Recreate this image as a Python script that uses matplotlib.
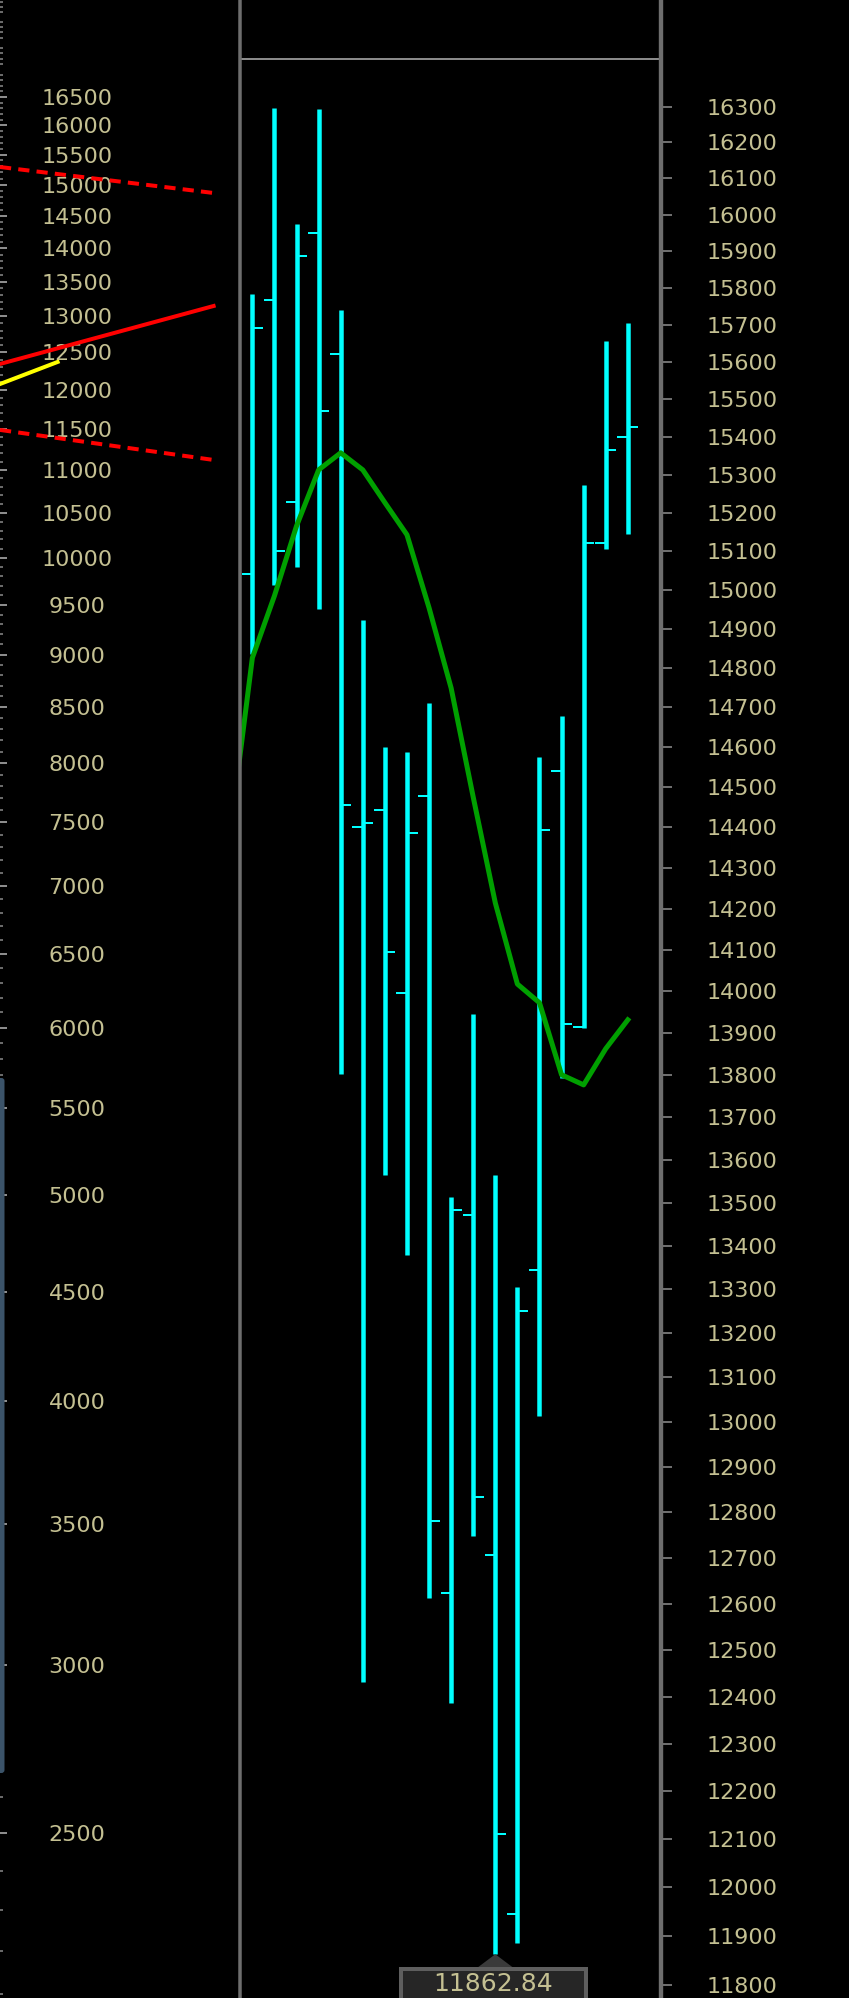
""" Daily OHLC bars next to a long-term log chart, dark terminal style. """
import numpy
import matplotlib.pyplot as plt
from matplotlib.lines import Line2D
from matplotlib.patches import Polygon, Rectangle, FancyBboxPatch
from matplotlib.ticker import FixedLocator, FixedFormatter, NullFormatter, NullLocator
from matplotlib.transforms import IdentityTransform

# daily bars of the right pane
bar_open = [15041, 15767, 15229, 15951, 15621, 14400, 14444, 13996, 14477,
            12624, 13471, 12707, 11946, 13345, 14541, 13915, 15122, 15401]
bar_high = [15783, 16297, 15975, 16293, 15741, 14923, 14600, 14588, 14712,
            13513, 13946, 13563, 13306, 14576, 14678, 15274, 15657, 15705]
bar_low = [14835, 15014, 15059, 14950, 13801, 12432, 13565, 13379, 12613,
           12386, 12748, 11862.84, 11886, 13014, 13793, 13911, 15106, 15145]
bar_close = [15691, 15102, 15888, 15469, 14456, 14411, 14095, 14386, 12781,
             13483, 12833, 12111, 13250, 14394, 13922, 15122, 15366, 15426]
# moving average, starts one bar before the first visible bar
ma_values = [14388, 14826, 14985, 15166, 15313, 15358, 15313, 15227, 15143, 14954,
             14749, 14475, 14214, 14017, 13972, 13800, 13776, 13862, 13931]

# long-term pane on the left: x as fraction of pane width, y as price
upper_channel_x = [0.0, 0.89]
upper_channel_y = [15291, 14865]
trend_x = [0.0, 0.89]
trend_y = [12344, 13147]
lower_channel_x = [0.0, 0.89]
lower_channel_y = [11490, 11121]
yellow_x = [0.0, 0.24]
yellow_y = [12078, 12371]

left_ticks = list(range(2500, 16501, 500))
left_minor = [v for v in range(2100, 18400, 100) if v % 500]
right_ticks = list(range(11800, 16301, 100))

W, H, DPI = 849, 1998, 100
LABEL = '#c4c092'
GREY = '#6e6e6e'
CYAN = '#00ffff'


def rect(x0, y0, x1, y1):
    """ pixel box, top-left origin -> figure fraction [l, b, w, h] """
    return [x0 / W, 1.0 - y1 / H, (x1 - x0) / W, (y1 - y0) / H]


def pt(px):
    return px * 72.0 / DPI


def setup_left(fig):
    ax = fig.add_axes(rect(0, 0, 240, H))
    ax.set_facecolor('black')
    ax.set_yscale('log')
    ax.set_xlim(0, 1)
    ax.set_ylim(2089.8, 18334.6)
    for s in ax.spines.values():
        s.set_visible(False)
    ax.xaxis.set_major_locator(NullLocator())
    ax.xaxis.set_minor_locator(NullLocator())
    ax.yaxis.set_major_locator(FixedLocator(left_ticks))
    ax.yaxis.set_major_formatter(FixedFormatter([str(v) for v in left_ticks]))
    ax.yaxis.set_minor_locator(FixedLocator(left_minor))
    ax.yaxis.set_minor_formatter(NullFormatter())
    ax.tick_params(axis='y', which='major', direction='in', length=pt(7), width=pt(2),
                   color='#8c8c8c', pad=-pt(77), labelsize=16, labelcolor=LABEL)
    ax.tick_params(axis='y', which='minor', direction='in', length=pt(3), width=pt(1.5),
                   color='#8c8c8c')
    for lbl in ax.get_yticklabels():
        lbl.set_horizontalalignment('center')

    lw = pt(4)
    ax.plot(upper_channel_x, upper_channel_y, color='red', lw=lw, ls=(0, (2.8, 1.8)))
    ax.plot(lower_channel_x, lower_channel_y, color='red', lw=lw, ls=(0, (2.8, 1.8)))
    ax.plot(trend_x, trend_y, color='red', lw=lw)
    ax.plot(yellow_x, yellow_y, color='yellow', lw=lw)
    return ax


def setup_bars(fig):
    ax = fig.add_axes(rect(240, 58.6, 660.5, H))
    ax.set_facecolor('black')
    ax.set_yscale('log')
    ax.set_xlim(-0.56, 18.48)
    ax.set_ylim(11773.9, 16435.4)
    for name, s in ax.spines.items():
        s.set_visible(name == 'top')
    ax.spines['top'].set_color('#8a8a8a')
    ax.spines['top'].set_linewidth(pt(2))
    ax.xaxis.set_major_locator(NullLocator())
    ax.xaxis.set_minor_locator(NullLocator())
    ax.yaxis.tick_right()
    ax.yaxis.set_major_locator(FixedLocator(right_ticks))
    ax.yaxis.set_major_formatter(FixedFormatter([str(v) for v in right_ticks]))
    ax.yaxis.set_minor_locator(NullLocator())
    ax.tick_params(axis='y', which='major', direction='out', length=pt(11), width=pt(2),
                   color=GREY, pad=pt(70.5), labelsize=16, labelcolor=LABEL,
                   right=True, left=False)
    for lbl in ax.get_yticklabels():
        lbl.set_horizontalalignment('center')

    x = numpy.arange(len(bar_open))
    ax.vlines(x, bar_low, bar_high, colors=CYAN, linewidth=pt(4.5), zorder=3)
    ax.hlines(bar_open, x - 0.48, x, colors=CYAN, linewidth=pt(2), zorder=3)
    ax.hlines(bar_close, x, x + 0.48, colors=CYAN, linewidth=pt(2), zorder=3)
    ax.plot(numpy.arange(-1, len(ma_values) - 1), ma_values, color='#00a000',
            lw=pt(5), solid_joinstyle='round', zorder=4)
    return ax


def low_marker(fig, ax):
    i = int(numpy.argmin(bar_low))
    v = bar_low[i]
    tx, ty = ax.transData.transform((i, v))
    ident = IdentityTransform()
    fig.add_artist(Polygon([(tx - 20, ty - 15), (tx, ty), (tx + 20, ty - 15)],
                           closed=True, fc='#3a3a3a', ec='none', transform=ident, zorder=5))
    fig.add_artist(Rectangle((tx - 94, ty - 50), 185, 35, fc='#262626', ec='#5e5e5e',
                             lw=pt(4), transform=ident, zorder=6))
    fig.text(tx - 2, ty - 30, f'{v:.2f}', color=LABEL, fontsize=18, ha='center',
             va='center', transform=ident, zorder=7)


def main():
    fig = plt.figure(figsize=(W / DPI, H / DPI), dpi=DPI, facecolor='black')
    setup_left(fig)
    ax = setup_bars(fig)

    # pane separators
    fig.add_artist(Line2D([239.5 / W] * 2, [0, 1], color=GREY, lw=pt(3.5),
                          transform=fig.transFigure, zorder=5))
    fig.add_artist(Line2D([660.5 / W] * 2, [0, 1], color=GREY, lw=pt(4.4),
                          transform=fig.transFigure, zorder=5))
    # scroller on the far left
    fig.add_artist(FancyBboxPatch((-3, H - 1773), 7.5, 695,
                                  boxstyle='round,pad=0,rounding_size=3',
                                  fc='#3b5369', ec='none', transform=IdentityTransform(),
                                  zorder=5))
    low_marker(fig, ax)
    fig.savefig('out.png', dpi=DPI, facecolor='black')
    plt.close('all')


if __name__ == '__main__':
    main()
